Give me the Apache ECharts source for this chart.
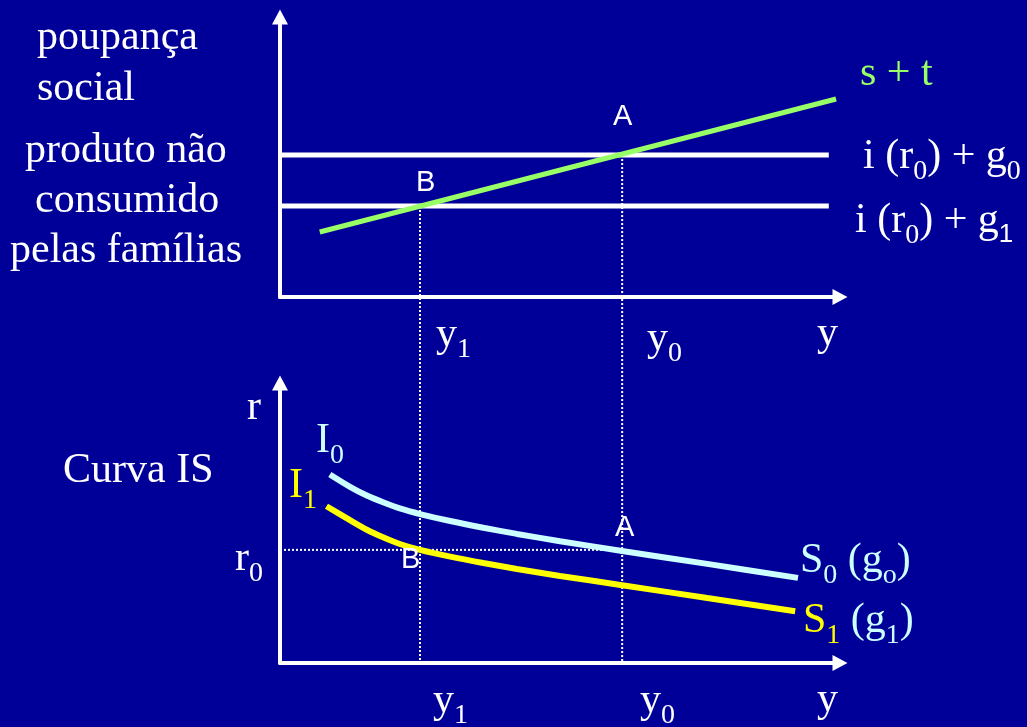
<!DOCTYPE html>
<html>
<head>
<meta charset="utf-8">
<script src="https://cdn.jsdelivr.net/npm/echarts@6/dist/echarts.min.js"></script>
<style>
  html, body { margin: 0; padding: 0; background: #000099; }
  #chart { width: 1027px; height: 727px; }
</style>
</head>
<body>
<div id="chart"></div>
<script>
// ---- values (axis units 0..100 on both panels) ----
const Y1 = 25.0;            // output y1
const Y0 = 61.1;            // output y0
const G0_LEVEL = 50.7;      // i(r0) + g0
const G1_LEVEL = 32.5;      // i(r0) + g1
const LEVEL_END = 98;       // horizontal lines stop here
const SAVING_X = [7.1, 99.3];   // s + t line
const SAVING_Y = [23.2, 70.7];
const R0 = 40.4;            // interest rate r0

const IS0_X = [8.9, 12.5, 15.5, 18.4, 21.4, 25.0, 30.4, 36.3, 42.3, 50.0, 61.1, 76.3, 92.5];
const IS0_Y = [67.3, 62.9, 59.8, 57.4, 55.2, 53.2, 50.7, 48.3, 46.1, 43.5, 40.0, 35.4, 30.4];
const IS1_X = [8.3, 12.5, 15.5, 18.4, 21.4, 25.0, 30.4, 36.3, 42.3, 50.0, 61.1, 76.3, 92.0];
const IS1_Y = [56.0, 51.0, 47.6, 44.9, 42.5, 40.4, 38.0, 35.7, 33.6, 31.1, 27.8, 23.2, 18.5];

// ---- styling ----
const BG = '#000099';
const WHITE = '#ffffff';
const GREEN = '#99ff66';
const CYAN = '#ccffff';
const YELLOW = '#ffff00';
const SERIF = '"Liberation Serif", "Times New Roman", serif';
const SANS = '"Liberation Sans", Arial, sans-serif';
const FS = 42, SUB_FS = 28, LINE_H = 56, SUB_PAD = 29;

const zip = (xs, ys) => xs.map((x, i) => [x, ys[i]]);

const chart = echarts.init(document.getElementById('chart'), null, { renderer: 'canvas' });

function axis(gridIndex) {
  return {
    gridIndex, type: 'value', min: 0, max: 100,
    axisLine: {
      show: true,
      onZero: false,
      symbol: ['none', 'triangle'],
      symbolSize: [16, 15],
      lineStyle: { color: WHITE, width: 4 }
    },
    axisTick: { show: false }, axisLabel: { show: false },
    splitLine: { show: false }
  };
}

function line(gridIndex, data, color, width, extra) {
  return Object.assign({
    type: 'line', xAxisIndex: gridIndex, yAxisIndex: gridIndex,
    data, symbol: 'none', silent: true, animation: false,
    lineStyle: { color, width, cap: 'butt' }
  }, extra || {});
}

const option = {
  backgroundColor: BG,
  animation: false,
  grid: [
    { left: 280, top: 17, width: 560, height: 280 },
    { left: 280, top: 383, width: 560, height: 280 }
  ],
  xAxis: [axis(0), axis(1)],
  yAxis: [axis(0), axis(1)],
  series: [
    line(0, [[0, G0_LEVEL], [LEVEL_END, G0_LEVEL]], WHITE, 5),
    line(0, [[0, G1_LEVEL], [LEVEL_END, G1_LEVEL]], WHITE, 5),
    line(0, zip(SAVING_X, SAVING_Y), GREEN, 5, { z: 3 }),
    line(1, [[0, R0], [Y0, R0]], WHITE, 2, { lineStyle: { color: WHITE, width: 2, type: [2, 2] }, z: 1 }),
    line(1, zip(IS0_X, IS0_Y), CYAN, 6, { smooth: 0.3, z: 3 }),
    line(1, zip(IS1_X, IS1_Y), YELLOW, 6, { smooth: 0.3, z: 3 })
  ]
};
chart.setOption(option);

// ---- text annotations ----
function styles(color) {
  return {
    m: { fontFamily: SERIF, fontSize: FS, fill: color, lineHeight: LINE_H },
    s: { fontFamily: SERIF, fontSize: SUB_FS, fill: color, lineHeight: LINE_H, padding: [SUB_PAD, 0, 0, 0] },
    ss: { fontFamily: SANS, fontSize: SUB_FS - 2, fill: color, lineHeight: LINE_H, padding: [SUB_PAD, 0, 0, 0] },
    a: { fontFamily: SANS, fontSize: 29, fill: color, lineHeight: LINE_H },
    c: { fontFamily: SERIF, fontSize: FS, fill: CYAN, lineHeight: LINE_H },
    cs: { fontFamily: SERIF, fontSize: SUB_FS, fill: CYAN, lineHeight: LINE_H, padding: [SUB_PAD, 0, 0, 0] }
  };
}
// left x, baseline y, rich text, colour
const TEXTS = [
  [37, 49, '{m|poupança}', WHITE],
  [37, 100, '{m|social}', WHITE],
  [25, 162, '{m|produto não}', WHITE],
  [35, 212, '{m|consumido}', WHITE],
  [10, 262, '{m|pelas famílias}', WHITE],
  [860, 85, '{m|s + t}', GREEN],
  [863, 168, '{m|i (r}{s|0}{m|) + g}{s|0}', WHITE],
  [855, 232, '{m|i (r}{s|0}{m|) + g}{ss|1}', WHITE],
  [436, 346, '{m|y}{s|1}', WHITE],
  [647, 350, '{m|y}{s|0}', WHITE],
  [817, 345, '{m|y}', WHITE],
  [247, 419, '{m|r}', WHITE],
  [316, 452, '{m|I}{s|0}', CYAN],
  [289, 497, '{m|I}{s|1}', YELLOW],
  [63, 482, '{m|Curva IS}', WHITE],
  [235, 570, '{m|r}{s|0}', WHITE],
  [800, 572, '{m|S}{s|0}{m| (g}{s|o}{m|)}', CYAN],
  [803, 632, '{m|S}{s|1}{c| (g}{cs|1}{c|)}', YELLOW],
  [433, 712, '{m|y}{s|1}', WHITE],
  [640, 712, '{m|y}{s|0}', WHITE],
  [817, 711, '{m|y}', WHITE]
];
const SANS_TEXTS = [
  [613, 127, 'A'], [416, 193, 'B'], [401, 570, 'B'], [615, 538, 'A']
];

const graphics = [];
TEXTS.forEach(([x, base, text, color]) => {
  graphics.push({
    type: 'text', x, y: base - (LINE_H / 2 + 0.3375 * FS) + 3, z: 10,
    style: { text, rich: styles(color), align: 'left', verticalAlign: 'top' }
  });
});
SANS_TEXTS.forEach(([x, base, t]) => {
  graphics.push({
    type: 'text', x, y: base - (LINE_H / 2 + 0.3465 * 29), z: 10,
    style: { text: '{a|' + t + '}', rich: styles(WHITE), align: 'left', verticalAlign: 'top' }
  });
});

// dotted guides from the upper intersections down to the lower output axis
[[Y1, G1_LEVEL], [Y0, G0_LEVEL]].forEach(([xv, level]) => {
  const p = chart.convertToPixel({ gridIndex: 0 }, [xv, level]);
  const q = chart.convertToPixel({ gridIndex: 1 }, [xv, 0]);
  graphics.push({
    type: 'line', z: 1, silent: true,
    shape: { x1: p[0], y1: p[1], x2: q[0], y2: q[1] },
    style: { stroke: WHITE, lineWidth: 2, lineDash: [2, 2] }
  });
});

chart.setOption({ graphic: graphics });
</script>
</body>
</html>
